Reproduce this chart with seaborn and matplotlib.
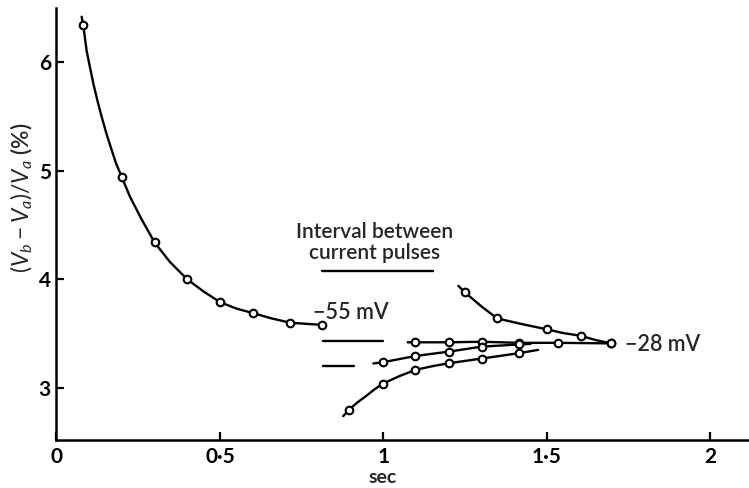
import numpy as np
import pandas as pd
import matplotlib
matplotlib.use("Agg")
import matplotlib.pyplot as plt
import seaborn as sns

# ==========================
# data
# ==========================
# -55 mV: markers and drawn curve
t_55 = [0.082, 0.20, 0.30, 0.40, 0.50, 0.60, 0.715, 0.813]
r_55 = [6.34, 4.94, 4.34, 4.00, 3.79, 3.69, 3.60, 3.58]
t_55_line = [0.077, 0.082, 0.092, 0.102, 0.113, 0.125, 0.138, 0.153, 0.169, 0.182,
             0.20, 0.225, 0.261, 0.30, 0.347, 0.40, 0.449, 0.50, 0.551, 0.60,
             0.658, 0.715, 0.765, 0.813]
r_55_line = [6.42, 6.34, 6.11, 5.96, 5.80, 5.65, 5.50, 5.34, 5.19, 5.07,
             4.94, 4.76, 4.55, 4.34, 4.16, 4.00, 3.89, 3.79, 3.73, 3.69,
             3.64, 3.60, 3.59, 3.58]

# -28 mV: four recovery curves
t_28a = [1.249, 1.348, 1.499, 1.603, 1.696]
r_28a = [3.88, 3.64, 3.54, 3.48, 3.41]
t_28a_line = [1.229, 1.249, 1.30, 1.348, 1.42, 1.499, 1.55, 1.603, 1.65, 1.696]
r_28a_line = [3.94, 3.88, 3.75, 3.64, 3.59, 3.54, 3.505, 3.48, 3.44, 3.41]

t_28b = [1.098, 1.20, 1.30, 1.415, 1.533, 1.696]
r_28b = [3.42, 3.42, 3.425, 3.415, 3.415, 3.41]
t_28b_line = [1.074, 1.098, 1.20, 1.30, 1.415, 1.533, 1.696]
r_28b_line = [3.42, 3.42, 3.42, 3.425, 3.415, 3.415, 3.41]

t_28c = [0.998, 1.098, 1.20, 1.30, 1.415]
r_28c = [3.236, 3.294, 3.334, 3.38, 3.40]
t_28c_line = [0.969, 0.998, 1.098, 1.20, 1.30, 1.415, 1.45]
r_28c_line = [3.225, 3.236, 3.294, 3.334, 3.38, 3.40, 3.405]

t_28d = [0.895, 0.999, 1.098, 1.20, 1.30, 1.415]
r_28d = [2.80, 3.04, 3.166, 3.227, 3.27, 3.32]
t_28d_line = [0.877, 0.895, 0.92, 0.947, 0.972, 0.999, 1.05, 1.098, 1.15, 1.20,
              1.30, 1.415, 1.473]
r_28d_line = [2.74, 2.80, 2.865, 2.925, 2.985, 3.04, 3.11, 3.166, 3.20, 3.227,
              3.27, 3.32, 3.35]

# interval bars (start, end, level)
bar_x0 = [0.811, 0.816, 0.816]
bar_x1 = [1.152, 0.999, 0.910]
bar_y = [4.08, 3.43, 3.20]

xticks = [0, 0.5, 1, 1.5, 2]
xticklabels = ["0", "0·5", "1", "1·5", "2"]
yticks = [3, 4, 5, 6]
yticklabels = ["3", "4", "5", "6"]

# ==========================
# style
# ==========================
sns.set_style("ticks")
plt.rcParams['font.family'] = ['Lato', 'DejaVu Sans']
plt.rcParams['mathtext.fontset'] = 'custom'
plt.rcParams['mathtext.rm'] = 'Lato'
plt.rcParams['mathtext.it'] = 'Lato:italic'

fig = plt.figure(figsize=(7.49, 4.88), dpi=100)
ax = fig.add_axes([0.0754, 0.0984, 0.9246, 0.8852])

lines = [(t_55_line, r_55_line), (t_28a_line, r_28a_line), (t_28b_line, r_28b_line),
         (t_28c_line, r_28c_line), (t_28d_line, r_28d_line)]
marks = [(t_55, r_55), (t_28a, r_28a), (t_28b, r_28b), (t_28c, r_28c), (t_28d, r_28d)]

for xs, ys in lines:
    sns.lineplot(x=xs, y=ys, ax=ax, color="black", linewidth=1.7, sort=False,
                 estimator=None, zorder=2)
for xs, ys in marks:
    sns.scatterplot(x=xs, y=ys, ax=ax, s=30, facecolor="white", edgecolor="black",
                    linewidth=1.5, zorder=3)

for x0, x1, y in zip(bar_x0, bar_x1, bar_y):
    ax.plot([x0, x1], [y, y], color="black", linewidth=1.7)

ax.text(0.974, 4.34, "Interval between\ncurrent pulses", ha="center", va="center",
        fontsize=15, fontweight="semibold", linespacing=1.1)
ax.text(0.784, 3.69, "\u221255 mV", ha="left", va="center", fontsize=15.5,
        fontweight="semibold")
ax.text(1.739, 3.40, "\u221228 mV", ha="left", va="center", fontsize=15.5,
        fontweight="semibold")

ax.set_xlim(0, 2.118)
ax.set_ylim(2.52, 6.5)
ax.set_xticks(xticks)
ax.set_xticklabels(xticklabels, fontsize=15, fontweight="bold")
ax.set_yticks(yticks)
ax.set_yticklabels(yticklabels, fontsize=15, fontweight="bold")
ax.tick_params(axis="x", direction="in", length=6, width=1.6, pad=5, colors="black")
ax.tick_params(axis="y", direction="in", length=6, width=1.6, pad=4, colors="black")

sns.despine(ax=ax)
for side in ["left", "bottom"]:
    ax.spines[side].set_linewidth(1.8)
    ax.spines[side].set_color("black")

ax.set_xlabel("sec", fontsize=14, fontweight="bold", va="center")
ax.xaxis.set_label_coords(0.4715, -0.088)
ax.set_ylabel(r"$(V_b - V_a)/V_a$ (%)", fontsize=16.5, fontweight="semibold",
              va="center")
ax.yaxis.set_label_coords(-0.05, 0.56)

plt.savefig("out.png", dpi=100)
